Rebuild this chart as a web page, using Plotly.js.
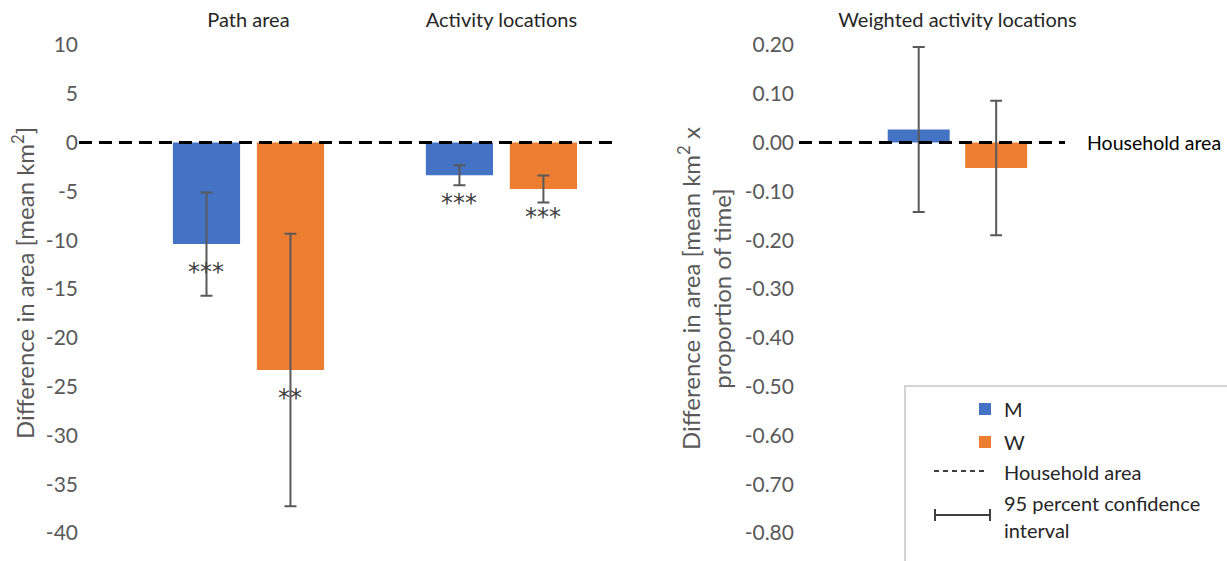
<!DOCTYPE html>
<html><head><meta charset="utf-8">
<script src="https://cdn.plot.ly/plotly-3.0.1.min.js"></script>
<style>html,body{margin:0;padding:0;background:#fff}</style>
</head><body><div id="chart" style="width:1227px;height:561px"></div>
<script>
// ---- data ----
const categoriesLeft = ['Path area', 'Activity locations'];
const categoriesRight = ['Weighted activity locations'];
const seriesNames = ['M', 'W'];
const menLeft = [-10.4, -3.35];
const menLeftCI = [5.3, 1.03];
const womenLeft = [-23.3, -4.75];
const womenLeftCI = [13.95, 1.39];
const menRight = [0.027];
const menRightCI = [0.169];
const womenRight = [-0.052];
const womenRightCI = [0.138];
const menLeftStars = ['***', '***'];
const womenLeftStars = ['**', '***'];
const leftTicks = [10, 5, 0, -5, -10, -15, -20, -25, -30, -35, -40];
const leftTickLabels = ['10', '5', '0', '-5', '-10', '-15', '-20', '-25', '-30', '-35', '-40'];
const rightTicks = [0.2, 0.1, 0, -0.1, -0.2, -0.3, -0.4, -0.5, -0.6, -0.7, -0.8];
const rightTickLabels = ['0.20', '0.10', '0.00', '-0.10', '-0.20', '-0.30', '-0.40', '-0.50', '-0.60', '-0.70', '-0.80'];
const legendLabels = ['M', 'W', 'Household area', '95 percent confidence', 'interval'];
const refLineLabel = 'Household area';
const leftTitle = 'Difference in area [mean km<sup>2</sup>]';
const rightTitle = 'Difference in area [mean km<sup>2</sup> x<br>proportion of time]';

// ---- style ----
const W = 1227, H = 561;
const BLUE = '#4472C4', ORANGE = '#ED7D31';
const px = v => v / W;
const py = v => 1 - v / H;
const BARGAP = 0.336, GROUPGAP = 0.2;
const FONT = 'Lato, "Open Sans", sans-serif';
const STARFONT = '"DejaVu Sans", sans-serif';
const errStyle = {type: 'data', visible: true, color: '#595959', thickness: 2, width: 6};

const traces = [
  {type: 'bar', name: seriesNames[0], x: categoriesLeft, y: menLeft, xaxis: 'x', yaxis: 'y',
   marker: {color: BLUE}, error_y: Object.assign({array: menLeftCI}, errStyle)},
  {type: 'bar', name: seriesNames[1], x: categoriesLeft, y: womenLeft, xaxis: 'x', yaxis: 'y',
   marker: {color: ORANGE}, error_y: Object.assign({array: womenLeftCI}, errStyle)},
  {type: 'bar', name: seriesNames[0], x: categoriesRight, y: menRight, xaxis: 'x2', yaxis: 'y2',
   marker: {color: BLUE}, error_y: Object.assign({array: menRightCI}, errStyle)},
  {type: 'bar', name: seriesNames[1], x: categoriesRight, y: womenRight, xaxis: 'x2', yaxis: 'y2',
   marker: {color: ORANGE}, error_y: Object.assign({array: womenRightCI}, errStyle)}
];

const slot = (1 - BARGAP) / 2;
const annotations = [];
categoriesLeft.forEach((c, i) => {
  annotations.push({xref: 'x', yref: 'y', x: i - slot / 2, y: menLeft[i], yshift: -28,
    xanchor: 'center', yanchor: 'middle',
    text: menLeftStars[i], showarrow: false, font: {size: 24, color: '#404040', family: STARFONT}});
  annotations.push({xref: 'x', yref: 'y', x: i + slot / 2, y: womenLeft[i], yshift: -28,
    xanchor: 'center', yanchor: 'middle',
    text: womenLeftStars[i], showarrow: false, font: {size: 24, color: '#404040', family: STARFONT}});
});
annotations.push({xref: 'paper', yref: 'y2', x: px(1085), y: 0, xanchor: 'left', yanchor: 'middle',
  text: refLineLabel, showarrow: false, font: {size: 19.5, color: '#000', family: FONT}});
annotations.push({xref: 'paper', yref: 'paper', x: px(23), y: py(283), textangle: -90,
  xanchor: 'center', yanchor: 'middle',
  text: leftTitle, showarrow: false, font: {size: 24, color: '#595959', family: FONT}});
annotations.push({xref: 'paper', yref: 'paper', x: px(704), y: py(289), textangle: -90,
  xanchor: 'center', yanchor: 'middle',
  text: rightTitle, showarrow: false, font: {size: 24, color: '#595959', family: FONT}});
const legY = [409, 442, 472, 503, 530];
legendLabels.forEach((t, i) => {
  annotations.push({xref: 'paper', yref: 'paper', x: px(1002), y: py(legY[i]), xanchor: 'left', yanchor: 'middle',
    text: t, showarrow: false, font: {size: 20, color: '#262626', family: FONT}});
});

const shapes = [
  {type: 'line', xref: 'x domain', yref: 'y', x0: 0, x1: 1, y0: 0, y1: 0, line: {color: '#000', width: 3, dash: '13px,7px'}},
  {type: 'line', xref: 'x2 domain', yref: 'y2', x0: 0, x1: 1, y0: 0, y1: 0, line: {color: '#000', width: 3, dash: '13px,7px'}},
  // legend box
  {type: 'rect', xref: 'paper', yref: 'paper', x0: px(905), x1: px(1240), y0: py(575), y1: py(386), line: {color: '#c6c6c6', width: 1.5}},
  {type: 'rect', xref: 'paper', yref: 'paper', x0: px(979), x1: px(991), y0: py(415), y1: py(403), fillcolor: BLUE, line: {width: 0}},
  {type: 'rect', xref: 'paper', yref: 'paper', x0: px(979), x1: px(991), y0: py(448), y1: py(436), fillcolor: ORANGE, line: {width: 0}},
  {type: 'line', xref: 'paper', yref: 'paper', x0: px(934), x1: px(986), y0: py(471), y1: py(471), line: {color: '#000', width: 1.3, dash: '5px,4px'}},
  {type: 'line', xref: 'paper', yref: 'paper', x0: px(935), x1: px(990), y0: py(515), y1: py(515), line: {color: '#404040', width: 2}},
  {type: 'line', xref: 'paper', yref: 'paper', x0: px(935), x1: px(935), y0: py(509), y1: py(521), line: {color: '#404040', width: 2}},
  {type: 'line', xref: 'paper', yref: 'paper', x0: px(990), x1: px(990), y0: py(509), y1: py(521), line: {color: '#404040', width: 2}}
];

const baseX = {type: 'category', side: 'top', showgrid: false, zeroline: false, showline: false, ticks: '',
  tickfont: {size: 20, color: '#262626', family: FONT}, ticklabelstandoff: 13, fixedrange: true};
const baseY = {showgrid: false, zeroline: false, showline: false, ticks: '',
  tickfont: {size: 21, color: '#595959', family: FONT}, fixedrange: true};

const layout = {
  width: W, height: H, margin: {l: 0, r: 0, t: 0, b: 0},
  paper_bgcolor: '#fff', plot_bgcolor: 'rgba(0,0,0,0)',
  barmode: 'group', bargap: BARGAP, bargroupgap: GROUPGAP, showlegend: false,
  font: {family: FONT, color: '#595959'},
  xaxis: Object.assign({}, baseX, {domain: [px(79), px(615)], range: [-0.670, 1.449], anchor: 'y'}),
  yaxis: Object.assign({}, baseY, {domain: [py(533), py(45)], range: [-40, 10], anchor: 'x',
    tickvals: leftTicks, ticktext: leftTickLabels, ticklabelstandoff: 0}),
  xaxis2: Object.assign({}, baseX, {domain: [px(799), px(1065)], range: [-0.679, 0.461], anchor: 'y2'}),
  yaxis2: Object.assign({}, baseY, {domain: [py(533), py(45)], range: [-0.8, 0.2], anchor: 'x2',
    tickvals: rightTicks, ticktext: rightTickLabels, ticklabelstandoff: 4}),
  annotations: annotations,
  shapes: shapes
};

Plotly.newPlot('chart', traces, layout, {displayModeBar: false, staticPlot: true});
</script>
</body></html>
